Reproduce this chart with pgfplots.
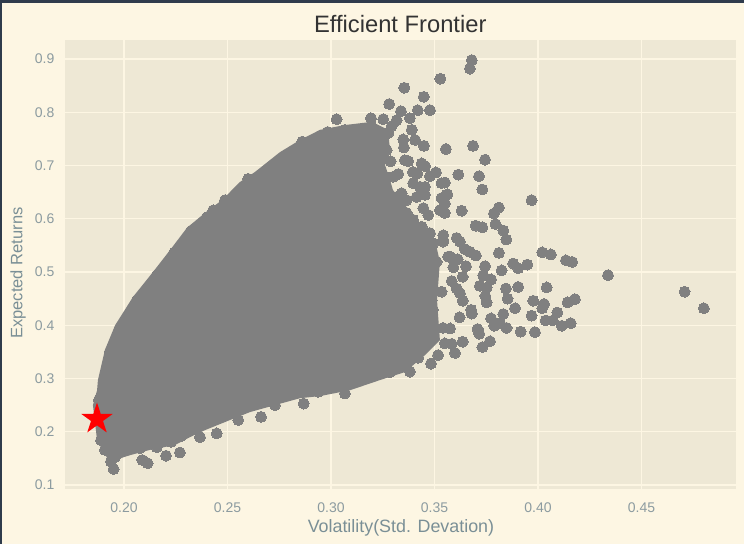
\documentclass[border=0pt]{standalone}
\usepackage{pgfplots}
\pgfplotsset{compat=1.18}
\usepackage{fontspec}
\setmainfont{Liberation Sans}
\definecolor{pagebg}{HTML}{FDF6E3}
\definecolor{axbg}{HTML}{EEE8D5}
\definecolor{dot}{HTML}{808080}
\definecolor{ticktxt}{HTML}{8C9BA0}
\definecolor{labtxt}{HTML}{7A8F96}
\definecolor{titletxt}{HTML}{333333}
\definecolor{frameclr}{HTML}{2F3B4C}
\pgfdeclareplotmark{fstar}{%
  \pgfpathmoveto{\pgfqpointpolar{90}{\pgfplotmarksize}}%
  \pgfpathlineto{\pgfpointpolar{126}{0.382*\pgfplotmarksize}}%
  \pgfpathlineto{\pgfpointpolar{162}{\pgfplotmarksize}}%
  \pgfpathlineto{\pgfpointpolar{198}{0.382*\pgfplotmarksize}}%
  \pgfpathlineto{\pgfpointpolar{234}{\pgfplotmarksize}}%
  \pgfpathlineto{\pgfpointpolar{270}{0.382*\pgfplotmarksize}}%
  \pgfpathlineto{\pgfpointpolar{306}{\pgfplotmarksize}}%
  \pgfpathlineto{\pgfpointpolar{342}{0.382*\pgfplotmarksize}}%
  \pgfpathlineto{\pgfpointpolar{18}{\pgfplotmarksize}}%
  \pgfpathlineto{\pgfpointpolar{54}{0.382*\pgfplotmarksize}}%
  \pgfpathclose\pgfusepathqfill}
\begin{document}
\begin{tikzpicture}
\fill[pagebg] (0,0) rectangle (558pt,408pt);
\useasboundingbox (0,0) rectangle (558pt,408pt);
\fill[frameclr] (0,405.75pt) rectangle (558pt,408pt);
\fill[frameclr] (0,0) rectangle (1.5pt,408pt);
\begin{axis}[
  at={(48.75pt,41.25pt)}, anchor=south west,
  scale only axis, width=502.9pt, height=336.75pt,
  xmin=0.1715, xmax=0.4954, ymin=0.0925, ymax=0.9357,
  axis background/.style={fill=axbg},
  axis line style={draw=none},
  major tick style={draw=none},
  grid=major,
  grid style={draw=pagebg, line width=0.9pt},
  xtick={0.20,0.25,0.30,0.35,0.40,0.45},
  ytick={0.1,0.2,0.3,0.4,0.5,0.6,0.7,0.8,0.9},
  xticklabel style={yshift=-6.75pt,/pgf/number format/fixed,/pgf/number format/fixed zerofill,/pgf/number format/precision=2,/pgf/number format/assume math mode=true},
  yticklabel style={xshift=-4.5pt,/pgf/number format/fixed,/pgf/number format/fixed zerofill,/pgf/number format/precision=1,/pgf/number format/assume math mode=true},
  tick label style={font=\fontsize{10.5pt}{12pt}\selectfont, text=ticktxt},
  xlabel={Volatility(Std. Devation)},
  ylabel={Expected Returns},
  title={Efficient Frontier},
  xlabel style={at={(axis description cs:0.501,-0.0865)}, anchor=center, font=\fontsize{13.4pt}{15pt}\selectfont, text=labtxt},
  ylabel style={at={(axis description cs:-0.0700,0.481)}, anchor=center, font=\fontsize{12.4pt}{14pt}\selectfont, text=labtxt},
  title style={at={(axis description cs:0.5,1.0356)}, anchor=center, yshift=-6pt, font=\fontsize{17.8pt}{20pt}\selectfont, text=titletxt},
]
% dense core of the cloud, where the markers merge
\addplot[fill=dot, draw=none] coordinates {
(0.1874,0.297)(0.1908,0.354)(0.1957,0.400)(0.2043,0.453)(0.2140,0.500)(0.2222,0.541)(0.2304,0.583)(0.2391,0.611)(0.2473,0.635)(0.2560,0.669)(0.2633,0.688)(0.2753,0.725)(0.2850,0.748)(0.2947,0.767)(0.3067,0.776)(0.3198,0.782)(0.3275,0.767)(0.3285,0.729)(0.3261,0.701)(0.3285,0.673)(0.3299,0.654)(0.3357,0.626)(0.3430,0.588)(0.3502,0.560)(0.3526,0.519)(0.3512,0.447)(0.3526,0.372)(0.3454,0.344)(0.3357,0.312)(0.3236,0.297)(0.3092,0.278)(0.2947,0.267)(0.2850,0.263)(0.2729,0.250)(0.2609,0.237)(0.2512,0.222)(0.2391,0.203)(0.2319,0.190)(0.2246,0.175)(0.2126,0.166)(0.2029,0.156)(0.1957,0.147)(0.1918,0.151)(0.1870,0.184)(0.1850,0.250)(0.1870,0.278)
} -- cycle;
% individual portfolios
\addplot[only marks, mark=*, mark size=4.1pt, color=dot, mark options={fill=dot, draw=dot, line width=0pt}] table {
0.3680 0.898
0.3671 0.882
0.3528 0.863
0.3354 0.846
0.3448 0.829
0.3281 0.8155
0.3338 0.802
0.3419 0.804
0.3478 0.804
0.3027 0.787
0.3193 0.789
0.3252 0.787
0.3067 0.767
0.3381 0.789
0.3317 0.785
0.3293 0.774
0.3390 0.767
0.3140 0.767
0.3196 0.773
0.3277 0.761
0.3555 0.731
0.3686 0.737
0.3744 0.711
0.3449 0.737
0.3352 0.734
0.3406 0.748
0.3349 0.749
0.3615 0.683
0.3715 0.680
0.3731 0.655
0.3507 0.687
0.3478 0.680
0.3550 0.668
0.3534 0.667
0.3562 0.646
0.3534 0.639
0.3397 0.667
0.3454 0.660
0.3325 0.684
0.3288 0.708
0.3357 0.710
0.3373 0.708
0.3438 0.704
0.3454 0.699
0.3417 0.685
0.3341 0.648
0.3454 0.645
0.3969 0.635
0.3631 0.615
0.3559 0.645
0.3550 0.629
0.3526 0.616
0.3550 0.611
0.3470 0.607
0.3811 0.621
0.3787 0.610
0.3699 0.587
0.3731 0.584
0.3795 0.590
0.3832 0.578
0.3847 0.561
0.3607 0.564
0.3623 0.557
0.3647 0.543
0.3671 0.538
0.3700 0.531
0.3811 0.536
0.4020 0.537
0.4062 0.533
0.4135 0.522
0.4165 0.519
0.3880 0.516
0.3904 0.507
0.3948 0.514
0.3824 0.503
0.3744 0.511
0.3652 0.511
0.3612 0.524
0.3735 0.494
0.3773 0.486
0.3636 0.491
0.3583 0.483
0.3591 0.509
0.3719 0.474
0.3752 0.471
0.3845 0.469
0.3904 0.472
0.4042 0.471
0.3607 0.469
0.3534 0.463
0.3623 0.460
0.3745 0.455
0.3853 0.450
0.3752 0.443
0.3636 0.446
0.3977 0.446
0.4178 0.449
0.4143 0.443
0.4029 0.440
0.4020 0.432
0.3889 0.432
0.3677 0.429
0.3680 0.422
0.4093 0.424
0.3832 0.421
0.3969 0.418
0.3621 0.415
0.3773 0.413
0.4037 0.409
0.4071 0.409
0.3789 0.399
0.3816 0.404
0.3848 0.395
0.4114 0.399
0.4158 0.404
0.3916 0.388
0.3985 0.387
0.3708 0.393
0.3716 0.384
0.3768 0.370
0.3731 0.359
0.3636 0.369
0.3599 0.348
0.3583 0.365
0.3550 0.366
0.3575 0.394
0.3483 0.328
0.3381 0.313
0.3517 0.344
0.3421 0.339
0.3542 0.569
0.3542 0.557
0.3478 0.573
0.3575 0.529
0.4338 0.494
0.4708 0.463
0.4801 0.432
0.3067 0.272
0.2367 0.190
0.2448 0.197
0.2552 0.222
0.2662 0.228
0.2868 0.253
0.2729 0.250
0.2938 0.275
0.3019 0.288
0.3172 0.301
0.3285 0.312
0.1950 0.130
0.1937 0.144
0.2088 0.147
0.2114 0.141
0.2203 0.155
0.2270 0.161
0.2227 0.181
0.2275 0.192
0.2158 0.171
0.2077 0.169
0.1908 0.166
0.1957 0.153
0.2018 0.169
0.2861 0.745
0.2984 0.763
0.2923 0.749
0.2802 0.723
0.2600 0.675
0.2665 0.682
0.2762 0.710
0.2488 0.635
0.2431 0.616
0.1903 0.297
0.1932 0.350
0.1981 0.395
0.2063 0.447
0.2159 0.494
0.2242 0.536
0.2324 0.577
0.2401 0.603
0.1879 0.260
0.1889 0.184
0.3317 0.641
0.3365 0.635
0.3414 0.641
0.3446 0.620
0.3365 0.611
0.3333 0.623
0.3397 0.598
0.3438 0.585
0.3381 0.573
0.3430 0.560
0.3494 0.554
0.3542 0.560
0.3357 0.551
0.3397 0.532
0.3462 0.538
0.3510 0.519
0.3566 0.529
0.3430 0.513
0.3381 0.504
0.3478 0.498
0.3486 0.476
0.3414 0.479
0.3454 0.461
0.3486 0.447
0.3492 0.429
0.3541 0.395
0.3221 0.754
0.3252 0.738
0.3269 0.729
0.3221 0.735
0.3236 0.705
0.3261 0.679
0.3301 0.679
0.3236 0.660
0.3396 0.688
0.3430 0.660
0.3154 0.761
};
% minimum-volatility portfolio
\addplot[only marks, mark=fstar, mark size=12.4pt, mark options={fill=red, draw=none}, color=red] coordinates {(0.18696,0.2239)};
\end{axis}
\end{tikzpicture}
\end{document}
